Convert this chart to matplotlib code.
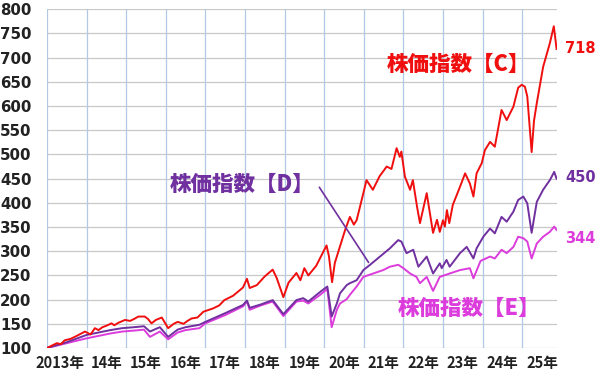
import matplotlib
matplotlib.use("Agg")
import matplotlib.pyplot as plt
import numpy as np

# ---- data ----
c_x = [2013.0, 2013.1, 2013.25, 2013.35, 2013.45, 2013.6, 2013.75, 2013.96, 2014.1, 2014.21, 2014.3, 2014.4,
       2014.5, 2014.63, 2014.7, 2014.8,
       2014.97, 2015.1, 2015.2, 2015.31, 2015.47, 2015.55, 2015.64, 2015.75, 2015.9, 2016.06, 2016.2, 2016.3,
       2016.45, 2016.53, 2016.65, 2016.8, 2016.95, 2017.2, 2017.35, 2017.48, 2017.7, 2017.95, 2018.05, 2018.12,
       2018.3, 2018.5, 2018.7, 2018.8, 2018.97, 2019.1, 2019.3, 2019.4, 2019.5, 2019.6, 2019.8,
       2020.06, 2020.12, 2020.2, 2020.27, 2020.4, 2020.53, 2020.65, 2020.75, 2020.82, 2020.99, 2021.07,
       2021.23, 2021.4, 2021.58, 2021.7, 2021.83, 2021.91, 2021.95, 2022.04, 2022.17, 2022.24, 2022.35,
       2022.42, 2022.59, 2022.75, 2022.85, 2022.92, 2023.0, 2023.05, 2023.1, 2023.16, 2023.25, 2023.43,
       2023.56, 2023.68, 2023.77, 2023.85, 2023.98, 2024.06, 2024.19, 2024.31, 2024.48, 2024.61, 2024.78,
       2024.9, 2024.99, 2025.07, 2025.13, 2025.24, 2025.3, 2025.37, 2025.53, 2025.7, 2025.8, 2025.87]
c_y = [100, 104, 110, 108, 116, 119, 125, 134, 128, 141, 137, 143,
       146, 151, 147, 152,
       158, 156, 160, 165, 165, 160, 151, 158, 163, 141, 150, 154,
       150, 155, 161, 163, 175, 182, 188, 199, 208, 225, 243, 224,
       230, 248, 262, 245, 205, 235, 255, 240, 265, 250, 270,
       312, 290, 236, 276, 310, 344, 371, 355, 364, 420, 447,
       427, 455, 475, 470, 513, 495, 506, 454, 427, 447, 390,
       358, 420, 338, 365, 340, 364, 351, 385, 358, 396, 433,
       461, 440, 413, 461, 482, 509, 526, 516, 592, 571, 599,
       638, 644, 640, 620, 505, 570, 606, 681, 730, 765, 718]

d_x = [2013.0, 2013.5, 2014.0, 2014.3, 2014.6, 2014.9, 2015.2, 2015.45, 2015.6, 2015.85, 2016.06,
       2016.3, 2016.5, 2016.85, 2017.0, 2017.5, 2017.95, 2018.05, 2018.12, 2018.4, 2018.7, 2018.97,
       2019.3, 2019.47, 2019.6, 2019.9, 2020.08, 2020.19, 2020.32, 2020.4, 2020.57, 2020.65, 2020.82,
       2020.99, 2021.16, 2021.41, 2021.66, 2021.87, 2021.95, 2022.08, 2022.25, 2022.38, 2022.59,
       2022.75, 2022.92, 2022.97, 2023.09, 2023.17, 2023.43, 2023.6, 2023.77, 2023.85, 2024.02,
       2024.19, 2024.31, 2024.48, 2024.61, 2024.78, 2024.9, 2025.03, 2025.13, 2025.24, 2025.37,
       2025.53, 2025.7, 2025.81, 2025.87]
d_y = [100, 112, 127, 132, 137, 141, 143, 145, 134, 143, 123,
       138, 143, 148, 154, 172, 189, 198, 183, 190, 199, 170,
       199, 203, 196, 216, 227, 165, 192, 213, 230, 234, 240,
       261, 272, 289, 306, 323, 320, 296, 303, 268, 289,
       254, 275, 265, 282, 268, 296, 309, 285, 306, 330,
       347, 337, 371, 361, 382, 406, 413, 399, 338, 402,
       427, 447, 464, 450]

e_x = [2013.0, 2013.5, 2014.0, 2014.3, 2014.6, 2014.9, 2015.2, 2015.45, 2015.6, 2015.85, 2016.06,
       2016.3, 2016.5, 2016.85, 2017.0, 2017.5, 2017.95, 2018.05, 2018.12, 2018.4, 2018.7, 2018.97,
       2019.3, 2019.47, 2019.6, 2019.9, 2020.08, 2020.19, 2020.32, 2020.4, 2020.57, 2020.65, 2020.82,
       2020.99, 2021.24, 2021.49, 2021.66, 2021.87, 2022.0, 2022.17, 2022.33, 2022.42, 2022.59,
       2022.75, 2022.92, 2023.17, 2023.43, 2023.68, 2023.77, 2023.95, 2024.19, 2024.31, 2024.48,
       2024.61, 2024.78, 2024.9, 2025.03, 2025.13, 2025.24, 2025.37, 2025.53, 2025.7, 2025.81, 2025.87]
e_y = [100, 110, 120, 125, 130, 134, 136, 138, 123, 134, 118,
       132, 137, 141, 151, 168, 186, 196, 179, 188, 196, 166,
       196, 198, 192, 210, 222, 143, 179, 192, 201, 210, 227,
       247, 254, 261, 268, 272, 265, 254, 247, 234, 247,
       218, 247, 254, 261, 265, 244, 280, 289, 285, 303,
       296, 309, 330, 327, 320, 285, 316, 330, 340, 351, 344]

years = list(range(2013, 2026))
year_labels = ["2013年", "14年", "15年", "16年", "17年", "18年", "19年",
               "20年", "21年", "22年", "23年", "24年", "25年"]
y_ticks = list(range(100, 801, 50))

names = ["株価指数【C】", "株価指数【D】", "株価指数【E】"]
end_labels = ["718", "450", "344"]

# ---- style ----
RED = "#f00f0f"
PURPLE = "#7030a0"
MAGENTA = "#dc3cdc"
JP = ["Noto Sans CJK JP", "DejaVu Sans"]

fig = plt.figure(figsize=(6, 3.72), dpi=100)
ax = fig.add_axes([0.0783, 0.0645, 0.85, 0.9105])

ax.plot(e_x, e_y, color=MAGENTA, lw=1.4, zorder=3)
ax.plot(d_x, d_y, color=PURPLE, lw=1.4, zorder=4)
ax.plot(c_x, c_y, color=RED, lw=1.4, zorder=5)

ax.set_xlim(2013.0, 2025.88)
ax.set_ylim(100, 800)

ax.set_yticks(y_ticks)
ax.set_yticklabels([str(v) for v in y_ticks], fontsize=10.8, fontweight="bold",
                   color="#222222", family="DejaVu Sans")
ax.tick_params(axis="y", length=0, pad=11)

ax.set_xticks(years, minor=True)
label_pos = [y + 0.5 for y in years]
label_pos[0] = years[0] + 0.33
ax.set_xticks(label_pos)
ax.set_xticklabels(year_labels, fontsize=10.5, fontweight="bold", color="#222222", family=JP)
ax.tick_params(axis="x", which="both", length=0, pad=5)

for v in y_ticks:
    ax.axhline(v, color="#c8c8c8", lw=0.9, zorder=1)
for yv in years:
    ax.axvline(yv, color="#b0c8e4", lw=0.9, zorder=1)
for s in ax.spines.values():
    s.set_visible(False)

# annotations
ax.text(2023.4, 685, names[0], color=RED, fontsize=15.5, fontweight="heavy",
        family=JP, ha="center", va="center", zorder=6)
ax.text(2017.92, 439, names[1], color=PURPLE, fontsize=15.5, fontweight="heavy",
        family=JP, ha="center", va="center", zorder=6)
ax.text(2023.65, 181, names[2], color=MAGENTA, fontsize=15.5, fontweight="heavy",
        family=JP, ha="center", va="center", zorder=6)
ax.annotate("", xy=(2021.16, 272), xytext=(2019.84, 437),
            arrowprops=dict(arrowstyle="-", color=PURPLE, lw=1.2), zorder=6)

ax.text(2026.08, c_y[-1], end_labels[0], color=RED, fontsize=10.5, fontweight="bold",
        ha="left", va="center", clip_on=False)
ax.text(2026.08, 452, end_labels[1], color=PURPLE, fontsize=10.5, fontweight="bold",
        ha="left", va="center", clip_on=False)
ax.text(2026.08, 327, end_labels[2], color=MAGENTA, fontsize=10.5, fontweight="bold",
        ha="left", va="center", clip_on=False)

fig.savefig("out.png", dpi=100)
